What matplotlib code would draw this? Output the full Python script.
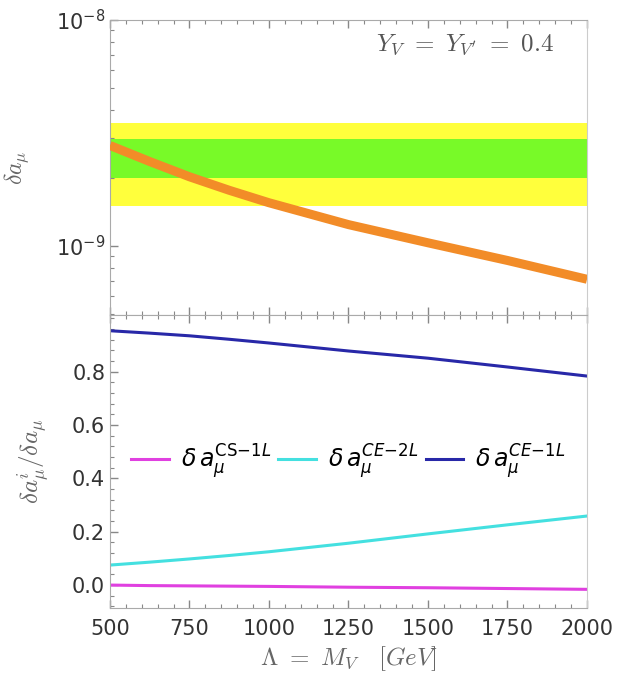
import matplotlib
matplotlib.use("Agg")
import matplotlib.pyplot as plt
from matplotlib.ticker import LogLocator, MultipleLocator, FixedLocator, NullFormatter
from matplotlib.font_manager import FontProperties
import numpy as np

# mass scale Lambda = M_V in GeV
lam = [500, 625, 750, 875, 1000, 1250, 1500, 1750, 2000]

# total contribution delta a_mu
delta_amu = [2.78e-9, 2.36e-9, 2.02e-9, 1.76e-9, 1.55e-9, 1.24e-9, 1.03e-9, 0.86e-9, 0.71e-9]

# experimental bands (1 sigma / 2 sigma)
band_1s = [2.0e-9, 2.96e-9]
band_2s = [1.5e-9, 3.48e-9]

# relative contributions
frac_cs1l = [0.0, -0.002, -0.003, -0.004, -0.005, -0.008, -0.010, -0.013, -0.016]
frac_ce2l = [0.075, 0.086, 0.098, 0.111, 0.125, 0.157, 0.192, 0.226, 0.259]
frac_ce1l = [0.954, 0.945, 0.935, 0.922, 0.908, 0.878, 0.851, 0.818, 0.784]

frac_ticks = [0.0, 0.2, 0.4, 0.6, 0.8]

label_cs1l = r'$\delta\, a_\mu^{\mathrm{CS{-}1}L}$'
label_ce2l = r'$\delta\, a_\mu^{CE{-}2L}$'
label_ce1l = r'$\delta\, a_\mu^{CE{-}1L}$'

tick_color = '#333333'
frame_color = '#aaaaaa'
label_color = '#666666'

fig = plt.figure(figsize=(6.19, 6.86), dpi=100)
ax1 = fig.add_axes([0.1777, 0.5408, 0.7706, 0.4300])
ax2 = fig.add_axes([0.1777, 0.1137, 0.7706, 0.4271])

# --- top panel: delta a_mu vs Lambda ---
ax1.axhspan(band_2s[0], band_2s[1], color='#ffff3c', lw=0, zorder=1)
ax1.axhspan(band_1s[0], band_1s[1], color='#78fa28', lw=0, zorder=2)
ax1.plot(lam, delta_amu, color='#f28c28', lw=6.5, solid_capstyle='butt', zorder=3)
ax1.set_yscale('log')
ax1.set_ylim(4.93e-10, 1e-8)
ax1.set_xlim(500, 2000)
ax1.yaxis.set_major_locator(LogLocator(base=10, numticks=5))
ax1.yaxis.set_minor_locator(LogLocator(base=10, subs=np.arange(2, 10), numticks=20))
ax1.yaxis.set_minor_formatter(NullFormatter())
ax1.set_ylabel(r'$\delta a_\mu$', fontsize=17, color=label_color,
               math_fontfamily='cm', labelpad=18)
ax1.text(0.93, 0.915, r'$Y_V\ =\ Y_{V^\prime}\ =\ 0.4$', transform=ax1.transAxes,
         ha='right', va='center', fontsize=18, color='#555555', math_fontfamily='cm')
ax1.tick_params(labelbottom=False)

# --- bottom panel: relative contributions ---
ax2.plot(lam, frac_cs1l, color='#e040e0', lw=2.2, label=label_cs1l)
ax2.plot(lam, frac_ce2l, color='#44e0e0', lw=2.2, label=label_ce2l)
ax2.plot(lam, frac_ce1l, color='#2828a8', lw=2.2, label=label_ce1l)
ax2.set_xlim(500, 2000)
ax2.set_ylim(-0.086, 1.013)
ax2.xaxis.set_major_locator(MultipleLocator(250))
ax2.yaxis.set_major_locator(FixedLocator(frac_ticks))
ax2.yaxis.set_minor_locator(MultipleLocator(0.04))
ax2.yaxis.set_major_formatter(plt.FuncFormatter(lambda v, p: f'{v:.1f}'))
ax2.set_ylabel(r'$\delta a^i_\mu / \delta a_\mu$', fontsize=18, color=label_color,
               math_fontfamily='cm', labelpad=14)
ax2.set_xlabel(r'$\Lambda\ =\ M_V \quad [GeV]$', fontsize=18, color=label_color,
               math_fontfamily='cm', labelpad=4)
leg_font = FontProperties(size=17, style='italic', math_fontfamily='dejavusans')
ax2.legend(loc='center', bbox_to_anchor=(0.5, 0.5), ncol=3, frameon=False,
           prop=leg_font, handlelength=1.6, columnspacing=0.3, handletextpad=0.5)

for ax in (ax1, ax2):
    ax.xaxis.set_minor_locator(MultipleLocator(50))
    for sp in ax.spines.values():
        sp.set_color(frame_color)
    ax.spines['right'].set_color('#cccccc')
    ax.tick_params(which='both', direction='in', top=True, right=False,
                   color='#888888', labelcolor=tick_color, labelsize=15)
    ax.tick_params(which='major', length=6, width=1)
    ax.tick_params(which='minor', length=3, width=0.8)

ax2.tick_params(axis='x', pad=8)

fig.savefig('out.png', dpi=100)
